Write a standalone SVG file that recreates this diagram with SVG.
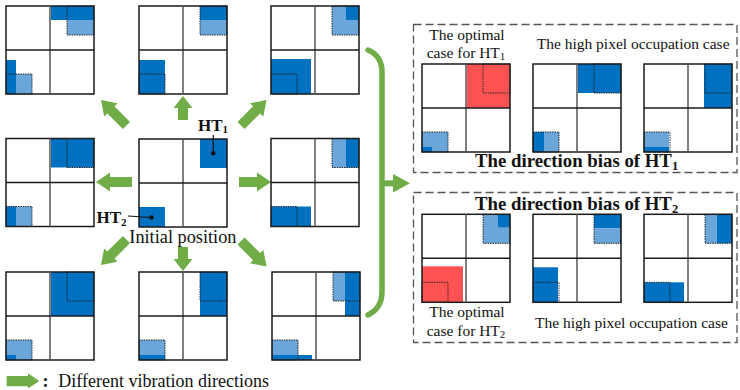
<svg xmlns="http://www.w3.org/2000/svg" xmlns:xlink="http://www.w3.org/1999/xlink" width="740" height="390" viewBox="0 0 740 390">
  <style>
    .d { fill: #0070C0; }
    .l { fill: #6AA6D9; }
    .r { fill: #FF5353; }
    .box { fill: none; stroke: #222; stroke-width: 1; stroke-dasharray: 1.4 1; }
    .frame { fill: none; stroke: #1a1a1a; stroke-width: 1.5; }
    .vmid { stroke: #555; stroke-width: 1.5; }
    .hmid { stroke: #1a1a1a; stroke-width: 1.5; }
    .green { fill: #70AD47; }
    .brace { fill: none; stroke: #70AD47; stroke-width: 5.5; stroke-linecap: round; }
    .dash { fill: none; stroke: #555; stroke-width: 1.3; stroke-dasharray: 8 4; }
    .t { font-family: "Liberation Serif", "Times New Roman", serif; fill: #111; }
    .lbl { font-size: 15.5px; }
    .bold { font-weight: bold; }
    .title { font-size: 18.8px; font-weight: bold; }
    .lead { stroke: #111; stroke-width: 1.2; }
  </style>
  <defs>
    <!-- 2x2 pixel grid, 88 x 88 -->
    <g id="grid">
      <rect class="frame" x="0" y="0" width="88" height="88"/>
      <line class="vmid" x1="44" y1="0" x2="44" y2="88"/>
      <line class="hmid" x1="0" y1="44" x2="88" y2="44"/>
    </g>
    <!-- initial positions of HT1 and HT2 (dotted outlines) -->
    <g id="init">
      <rect class="box" x="61" y="0" width="27" height="29"/>
      <rect class="box" x="0" y="68" width="26" height="20"/>
    </g>
    <!-- block arrows, tip at origin, pointing along +x -->
    <path id="arrLong" d="M-36,-5 H-14 V-9.5 L0,0 L-14,9.5 V5 H-36 Z"/>
    <path id="arrMid" d="M-32,-5 H-14 V-9.5 L0,0 L-14,9.5 V5 H-32 Z"/>
    <path id="arrShort" d="M-24,-5 H-12 V-9.5 L0,0 L-12,9.5 V5 H-24 Z"/>
  </defs>

  <!-- vibration direction arrows -->
  <g id="connectors">
    <use class="green" xlink:href="#arrLong" transform="translate(101,100) rotate(225)"/>
    <use class="green" xlink:href="#arrShort" transform="translate(183,96) rotate(-90)"/>
    <use class="green" xlink:href="#arrLong" transform="translate(266.5,100) rotate(-45)"/>
    <use class="green" xlink:href="#arrLong" transform="translate(96,182) rotate(180)"/>
    <use class="green" xlink:href="#arrMid" transform="translate(271,182)"/>
    <use class="green" xlink:href="#arrLong" transform="translate(101,265) rotate(135)"/>
    <use class="green" xlink:href="#arrShort" transform="translate(183,271) rotate(90)"/>
    <use class="green" xlink:href="#arrLong" transform="translate(266.5,266.5) rotate(45)"/>
    <!-- brace collecting the shifted cases -->
    <path class="brace" d="M368,50 Q382,56 382,72 L382,292 Q382,308 368,315"/>
    <line x1="382" y1="183.3" x2="396" y2="183.3" stroke="#70AD47" stroke-width="6"/>
    <polygon class="green" points="393,174 410,183.3 393,192.6"/>
  </g>

  <!-- up-left shift -->
  <g id="grid-up-left" transform="translate(6,6)">
    <rect class="d" x="45" y="0" width="43" height="14"/>
    <rect class="l" x="61" y="14" width="27" height="15"/>
    <rect class="d" x="0" y="54" width="10" height="34"/>
    <rect class="l" x="10" y="68" width="16" height="20"/>
    <use xlink:href="#grid"/><use xlink:href="#init"/>
  </g>
  <!-- up shift -->
  <g id="grid-up" transform="translate(139,6)">
    <rect class="d" x="61" y="0" width="27" height="14"/>
    <rect class="l" x="61" y="14" width="27" height="15"/>
    <rect class="d" x="0" y="54" width="26" height="34"/>
    <use xlink:href="#grid"/><use xlink:href="#init"/>
  </g>
  <!-- up-right shift -->
  <g id="grid-up-right" transform="translate(271,6)">
    <rect class="l" x="61" y="0" width="27" height="29"/>
    <rect class="d" x="75" y="0" width="13" height="14"/>
    <rect class="d" x="0" y="53" width="40" height="35"/>
    <use xlink:href="#grid"/><use xlink:href="#init"/>
  </g>
  <!-- left shift -->
  <g id="grid-left" transform="translate(6,138.5)">
    <rect class="d" x="45" y="0" width="43" height="29"/>
    <rect class="d" x="0" y="68" width="10" height="20"/>
    <rect class="l" x="10" y="68" width="16" height="20"/>
    <use xlink:href="#grid"/><use xlink:href="#init"/>
  </g>
  <!-- initial position -->
  <g id="grid-initial" transform="translate(139,139)">
    <rect class="d" x="61" y="0" width="27" height="29"/>
    <rect class="d" x="0" y="68" width="26" height="20"/>
    <use xlink:href="#grid"/>
  </g>
  <g id="label-ht1">
    <text class="t bold" x="198" y="131" font-size="17">HT<tspan font-size="11" dy="2">1</tspan></text>
    <line class="lead" x1="213.3" y1="135" x2="213.3" y2="153"/>
    <circle cx="213.3" cy="153.3" r="2.2" fill="#111"/>
  </g>
  <g id="label-ht2">
    <text class="t bold" x="96.5" y="223" font-size="17">HT<tspan font-size="11" dy="3">2</tspan></text>
    <line class="lead" x1="128" y1="216" x2="151.5" y2="217.5"/>
    <circle cx="151.5" cy="217.5" r="2.2" fill="#111"/>
  </g>
  <text id="label-initial" class="t" x="129.3" y="242.7" font-size="18.3">Initial position</text>
  <!-- right shift -->
  <g id="grid-right" transform="translate(271,138.5)">
    <rect class="l" x="61" y="0" width="14" height="29"/>
    <rect class="d" x="75" y="0" width="13" height="29"/>
    <rect class="d" x="0" y="68" width="40" height="20"/>
    <use xlink:href="#grid"/><use xlink:href="#init"/>
  </g>
  <!-- down-left shift -->
  <g id="grid-down-left" transform="translate(6,272)">
    <rect class="d" x="45" y="0" width="43" height="44"/>
    <rect class="l" x="0" y="68" width="26" height="20"/>
    <rect class="d" x="0" y="83" width="10" height="5"/>
    <use xlink:href="#grid"/><use xlink:href="#init"/>
  </g>
  <!-- down shift -->
  <g id="grid-down" transform="translate(139,272)">
    <rect class="d" x="61" y="0" width="27" height="44"/>
    <rect class="l" x="0" y="68" width="26" height="15"/>
    <rect class="d" x="0" y="83" width="26" height="5"/>
    <use xlink:href="#grid"/><use xlink:href="#init"/>
  </g>
  <!-- down-right shift -->
  <g id="grid-down-right" transform="translate(272,272)">
    <rect class="l" x="61" y="0" width="12" height="29"/>
    <rect class="d" x="73" y="0" width="15" height="44"/>
    <rect class="l" x="0" y="68" width="26" height="15"/>
    <rect class="d" x="0" y="83" width="40" height="5"/>
    <use xlink:href="#grid"/><use xlink:href="#init"/>
  </g>

  <!-- direction bias of HT1 -->
  <g id="panel-ht1">
    <rect class="dash" x="413.5" y="24.5" width="323.5" height="148"/>
    <text class="t lbl" x="467" y="40" text-anchor="middle">The optimal</text>
    <text class="t lbl" x="466" y="58.3" text-anchor="middle">case for HT<tspan font-size="11" dy="2">1</tspan></text>
    <text class="t lbl" x="536.7" y="49.3">The high pixel occupation case</text>
    <g id="ht1-optimal" transform="translate(422,64)">
      <rect class="r" x="45" y="0" width="43" height="44"/>
      <rect class="l" x="0" y="68" width="26" height="20"/>
      <rect class="d" x="0" y="83" width="10" height="5"/>
      <use xlink:href="#grid"/><use xlink:href="#init"/>
    </g>
    <g id="ht1-high-a" transform="translate(533,64)">
      <rect class="d" x="45" y="0" width="43" height="29"/>
      <rect class="d" x="0" y="68" width="11" height="20"/>
      <rect class="l" x="11" y="68" width="15" height="20"/>
      <use xlink:href="#grid"/><use xlink:href="#init"/>
    </g>
    <g id="ht1-high-b" transform="translate(644,64)">
      <rect class="d" x="60" y="0" width="28" height="44"/>
      <rect class="l" x="0" y="68" width="25" height="15"/>
      <rect class="d" x="0" y="83" width="25" height="5"/>
      <use xlink:href="#grid"/><use xlink:href="#init"/>
    </g>
    <text class="t title" x="475" y="167">The direction bias of HT<tspan font-size="12.5" dy="3">1</tspan></text>
  </g>

  <!-- direction bias of HT2 -->
  <g id="panel-ht2">
    <rect class="dash" x="413.5" y="192.5" width="323.5" height="150"/>
    <text class="t title" x="475" y="210">The direction bias of HT<tspan font-size="12.5" dy="3">2</tspan></text>
    <g id="ht2-optimal" transform="translate(422,214.3)">
      <rect class="l" x="61" y="0" width="27" height="29"/>
      <rect class="d" x="76" y="0" width="12" height="13"/>
      <rect class="r" x="0" y="52" width="41" height="36"/>
      <use xlink:href="#grid"/><use xlink:href="#init"/>
    </g>
    <g id="ht2-high-a" transform="translate(533,214.3)">
      <rect class="d" x="61" y="0" width="27" height="14"/>
      <rect class="l" x="61" y="14" width="27" height="15"/>
      <rect class="d" x="0" y="53" width="25" height="35"/>
      <use xlink:href="#grid"/><use xlink:href="#init"/>
    </g>
    <g id="ht2-high-b" transform="translate(644,214.3)">
      <rect class="l" x="61" y="0" width="12" height="29"/>
      <rect class="d" x="73" y="0" width="15" height="29"/>
      <rect class="d" x="0" y="68" width="40" height="20"/>
      <use xlink:href="#grid"/><use xlink:href="#init"/>
    </g>
    <text class="t lbl" x="467" y="317.3" text-anchor="middle">The optimal</text>
    <text class="t lbl" x="466" y="335.7" text-anchor="middle">case for HT<tspan font-size="11" dy="2">2</tspan></text>
    <text class="t lbl" x="535" y="327.7">The high pixel occupation case</text>
  </g>

  <!-- legend -->
  <g id="legend">
    <polygon class="green" points="6.7,376 28,376 28,373.3 39.3,381 28,388.6 28,386.3 6.7,386.3"/>
    <text class="t bold" x="42.5" y="387" font-size="18">:</text>
    <text class="t" x="58.3" y="387" font-size="18">Different vibration directions</text>
  </g>
</svg>
